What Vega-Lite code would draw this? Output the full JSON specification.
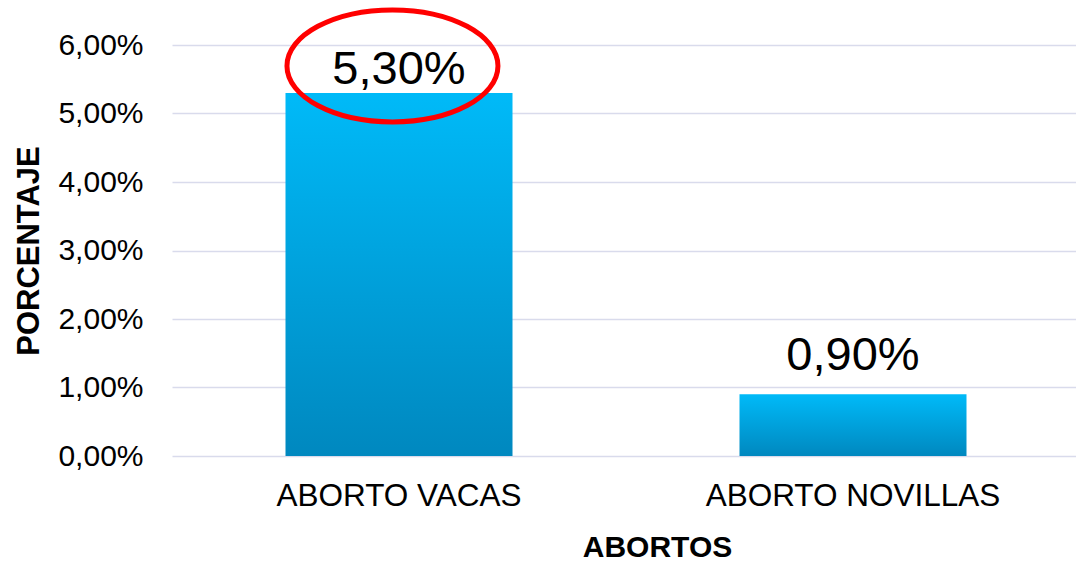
{
  "$schema": "https://vega.github.io/schema/vega-lite/v6.json",
  "width": 908,
  "height": 411,
  "autosize": "none",
  "padding": {"left": 172, "top": 45, "right": 0, "bottom": 106},
  "background": "white",
  "config": {"view": {"stroke": null}, "font": "Liberation Sans"},
  "data": {
    "values": [
      {"categoria": "ABORTO VACAS", "porcentaje": 0.053, "etiqueta": "5,30%"},
      {"categoria": "ABORTO NOVILLAS", "porcentaje": 0.009, "etiqueta": "0,90%"}
    ]
  },
  "encoding": {
    "x": {
      "field": "categoria",
      "type": "nominal",
      "sort": null,
      "scale": {"paddingInner": 0.5, "paddingOuter": 0.25},
      "axis": {
        "labelAngle": 0,
        "labelFontSize": 31.5,
        "labelColor": "#000000",
        "labelPadding": 24,
        "labelLimit": 0,
        "ticks": false,
        "domain": false,
        "title": "ABORTOS",
        "titleFontSize": 30,
        "titleFontWeight": "bold",
        "titleColor": "#000000",
        "titlePadding": 21,
        "titleX": 485,
        "titleAlign": "center",
        "titleAnchor": "start"
      }
    },
    "y": {
      "field": "porcentaje",
      "type": "quantitative",
      "scale": {"domain": [0, 0.06], "nice": false},
      "axis": {
        "values": [0, 0.01, 0.02, 0.03, 0.04, 0.05, 0.06],
        "labelExpr": "replace(format(datum.value, '.2%'), '.', ',')",
        "labelFontSize": 30,
        "labelColor": "#000000",
        "labelPadding": 29,
        "ticks": false,
        "domain": false,
        "grid": true,
        "gridColor": "#D9DBEC",
        "gridWidth": 1.5,
        "title": "PORCENTAJE",
        "titleFontSize": 31,
        "titleFontWeight": "bold",
        "titleColor": "#000000",
        "titlePadding": 12
      }
    }
  },
  "layer": [
    {
      "mark": {
        "type": "bar",
        "color": {
          "gradient": "linear",
          "x1": 0, "y1": 0, "x2": 0, "y2": 1,
          "stops": [
            {"offset": 0, "color": "#00BAF8"},
            {"offset": 1, "color": "#0088BF"}
          ]
        }
      }
    },
    {
      "transform": [{"filter": "datum.categoria == 'ABORTO VACAS'"}],
      "mark": {"type": "text", "fontSize": 47, "baseline": "alphabetic", "dy": -9, "color": "#000000"},
      "encoding": {"text": {"field": "etiqueta"}}
    },
    {
      "transform": [{"filter": "datum.categoria == 'ABORTO NOVILLAS'"}],
      "mark": {"type": "text", "fontSize": 47, "baseline": "alphabetic", "dy": -24, "color": "#000000"},
      "encoding": {"text": {"field": "etiqueta"}}
    },
    {
      "transform": [{"filter": "datum.categoria == 'ABORTO VACAS'"}],
      "mark": {
        "type": "point",
        "shape": "M -1.062 -0.256 A 1 0.531 0 1 1 0.938 -0.256 A 1 0.531 0 1 1 -1.062 -0.256 Z",
        "size": 44521,
        "filled": false,
        "stroke": "#FF0000",
        "strokeWidth": 5,
        "opacity": 1
      }
    }
  ]
}
